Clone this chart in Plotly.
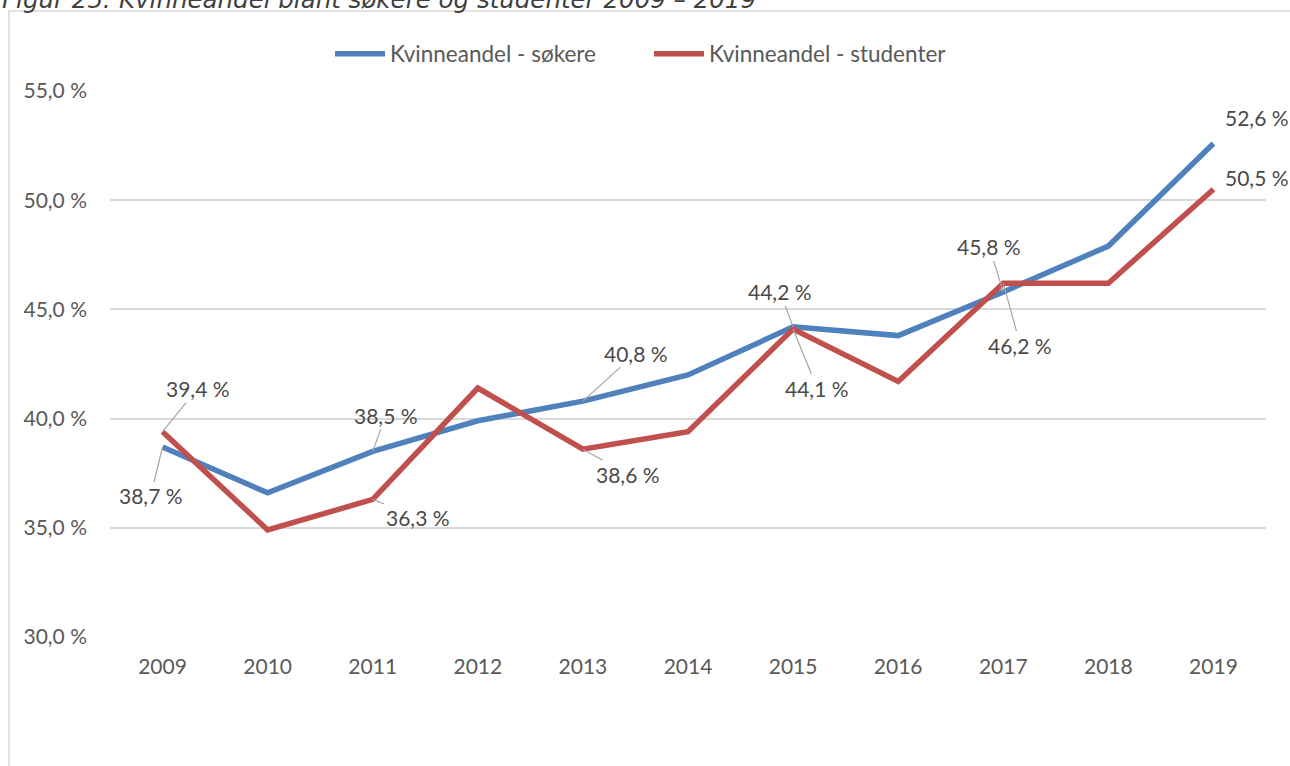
import plotly.graph_objects as go

years = ["2009", "2010", "2011", "2012", "2013", "2014", "2015", "2016", "2017", "2018", "2019"]
sokere = [38.7, 36.6, 38.5, 39.9, 40.8, 42.0, 44.2, 43.8, 45.8, 47.9, 52.6]
studenter = [39.4, 34.9, 36.3, 41.4, 38.6, 39.4, 44.1, 41.7, 46.2, 46.2, 50.5]
y_tickvals = [30, 35, 40, 45, 50, 55]
y_ticktext = ["30,0 %", "35,0 %", "40,0 %", "45,0 %", "50,0 %", "55,0 %"]
series_names = ["Kvinneandel - søkere", "Kvinneandel - studenter"]
title_text = "Figur 25: Kvinneandel blant søkere og studenter 2009 – 2019"

# which points get labels (index) and label offsets in pixels (style only)
sokere_labels = {0: (-12, 49, True), 2: (13, -36, True), 4: (53, -48, True),
                 6: (-13, -35, True), 8: (-14, -45, True), 10: (44, -26, False)}
studenter_labels = {0: (35, -43, True), 2: (45, 18, True), 4: (45, 25, True),
                    6: (24, 59, True), 8: (17, 62, True), 10: (44, -12, False)}

BLUE = "#4F81BD"
RED = "#C0504D"
TXT = "#595959"
LBL = "#4A4A4A"
FONT = "Lato"
FS = 21

W, H = 1290, 766
L, R, T, B = 110, 24, 91, 129
PW, PH = W - L - R, H - T - B

fig = go.Figure()
fig.add_trace(go.Scatter(x=years, y=sokere, mode="lines", name=series_names[0],
                         line=dict(color=BLUE, width=5.5)))
fig.add_trace(go.Scatter(x=years, y=studenter, mode="lines", name=series_names[1],
                         line=dict(color=RED, width=5.5)))


def fmt(v):
    return f"{v:.1f}".replace(".", ",") + " %"


annotations = []
for vals, labels in ((sokere, sokere_labels), (studenter, studenter_labels)):
    for i, (dx, dy, arrow) in labels.items():
        if arrow:
            annotations.append(dict(x=i, y=vals[i], xref="x", yref="y", text=fmt(vals[i]),
                                    showarrow=True, ax=dx, ay=dy, arrowhead=0, arrowwidth=1.2,
                                    arrowcolor="#A6A6A6", standoff=0,
                                    font=dict(family=FONT, size=FS, color=LBL)))
        else:
            annotations.append(dict(x=i, y=vals[i], xref="x", yref="y", text=fmt(vals[i]),
                                    showarrow=False, xshift=dx, yshift=-dy,
                                    font=dict(family=FONT, size=FS, color=LBL)))

# title (partly cut off at the top, as in the source)
annotations.append(dict(xref="paper", yref="paper", x=-L / PW, y=1 + (T - 16) / PH,
                        xanchor="left", yanchor="bottom", showarrow=False,
                        text="<i>" + title_text + "</i>",
                        font=dict(family="DejaVu Sans", size=24.5, color="#404040")))

shapes = [dict(type="rect", xref="paper", yref="paper",
               x0=(9 - L) / PW, x1=(W + 5 - L) / PW,
               y0=-(B + 5) / PH, y1=1 + (T - 11) / PH,
               line=dict(color="#D9D9D9", width=1.5), fillcolor="rgba(0,0,0,0)", layer="below")]

fig.update_layout(
    width=W, height=H,
    margin=dict(l=L, r=R, t=T, b=B),
    paper_bgcolor="white", plot_bgcolor="white",
    font=dict(family=FONT, size=FS, color=TXT),
    showlegend=True,
    legend=dict(orientation="h", x=(330 - L) / PW, xanchor="left", y=1 + (T - 54) / PH,
                yanchor="middle", font=dict(family=FONT, size=22.5, color=TXT),
                itemwidth=50, entrywidth=254, entrywidthmode="pixels",
                bgcolor="rgba(0,0,0,0)"),
    annotations=annotations,
    shapes=shapes,
    xaxis=dict(type="category", range=[-0.5, 10.5], showgrid=False, zeroline=False,
               showline=False, ticks="", ticklabelstandoff=15,
               tickfont=dict(family=FONT, size=21, color=TXT)),
    yaxis=dict(range=[30, 55], tickvals=y_tickvals, ticktext=y_ticktext,
               showgrid=True, gridcolor="#D9D9D9", gridwidth=1.5, zeroline=False,
               showline=False, ticks="", ticklabelstandoff=22,
               tickfont=dict(family=FONT, size=21, color=TXT)),
)

fig.write_html("out.html", config={"displayModeBar": False},
               post_script="document.body.style.margin='0';")
